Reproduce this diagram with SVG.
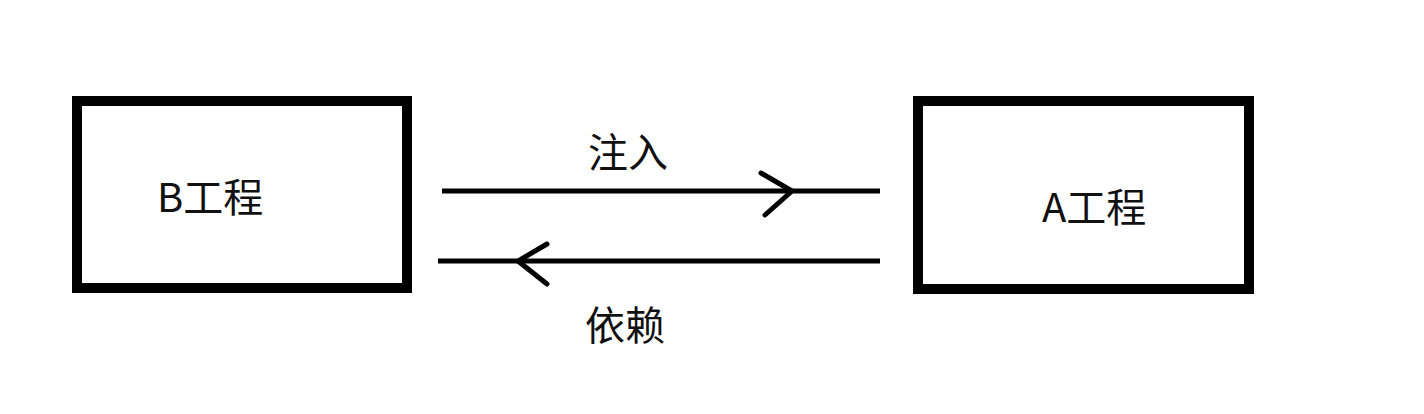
<svg xmlns="http://www.w3.org/2000/svg" width="1424" height="414" viewBox="0 0 1424 414">
<style>
.box{fill:#fff;stroke:#000;stroke-width:10}
.lbl{font-family:"Noto Sans CJK SC","Noto Sans",sans-serif;font-size:40px;fill:#111}
.ln{stroke:#000;stroke-width:5;fill:none;stroke-linecap:butt}
.ah{stroke:#000;stroke-width:5;fill:none;stroke-linecap:round;stroke-linejoin:miter}
</style>
<rect width="1424" height="414" fill="#fff"/>
<g id="nodeB">
<rect class="box" x="77" y="101" width="330" height="187"/>
<text class="lbl" x="157" y="212">B工程</text>
</g>
<g id="nodeA">
<rect class="box" x="918" y="101" width="331" height="188"/>
<text class="lbl" x="1042" y="222">A工程</text>
</g>
<g id="connectors">
<line class="ln" x1="442" y1="191" x2="880" y2="191"/>
<polyline class="ah" points="761,173 792,191 765,215"/>
<text class="lbl" x="588" y="167">注入</text>
<line class="ln" x1="438" y1="261" x2="880" y2="261"/>
<polyline class="ah" points="547,244 518,261 547,284"/>
<text class="lbl" x="585" y="340">依赖</text>
</g>
</svg>
